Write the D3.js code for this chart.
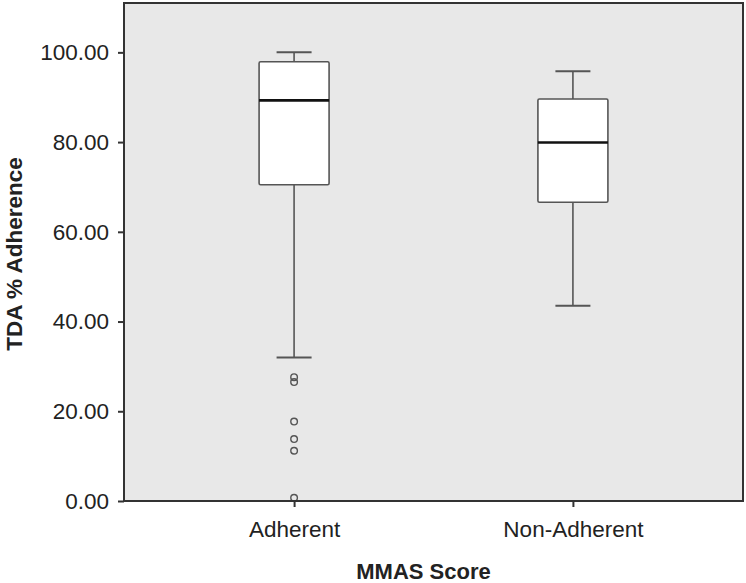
<!DOCTYPE html>
<html>
<head>
<meta charset="utf-8">
<script src="https://cdn.jsdelivr.net/npm/d3@7"></script>
<style>
  body { margin: 0; background: #fff; }
  text { font-family: "Liberation Sans", Arial, sans-serif; fill: #222; }
</style>
</head>
<body>
<div id="chart"></div>
<script>
// data
var categories = ["Adherent", "Non-Adherent"];
var q1 = [70.5, 66.6];
var median = [89.3, 79.9];
var q3 = [97.9, 89.6];
var whiskerLow = [32.0, 43.5];
var whiskerHigh = [100.0, 95.8];
var outliers = [[27.6, 26.5, 17.7, 13.8, 11.2, 0.7], []];
var yTicks = [0, 20, 40, 60, 80, 100];

var width = 746, height = 583;
var margin = {top: 3, right: 3, bottom: 82, left: 124};
var plotW = width - margin.left - margin.right,
    plotH = height - margin.top - margin.bottom;

var svg = d3.select("#chart")
  .append("svg")
    .attr("width", width)
    .attr("height", height);

var g = svg.append("g")
  .attr("transform", "translate(" + margin.left + "," + margin.top + ")");

var x = d3.scalePoint()
  .domain(categories)
  .range([0, plotW])
  .padding(0.61);

var y = d3.scaleLinear()
  .domain([0, 111])
  .range([plotH, 0]);

// plot background
g.append("rect")
  .attr("width", plotW)
  .attr("height", plotH)
  .attr("fill", "#e8e8e8");

var boxW = 70, capW = 35;

var boxes = g.selectAll(".box")
  .data(categories)
  .enter()
  .append("g")
    .attr("class", "box")
    .attr("transform", function(d) { return "translate(" + x(d) + ",0)"; });

// whiskers
boxes.append("line")
  .attr("x1", 0).attr("x2", 0)
  .attr("y1", function(d, i) { return y(whiskerHigh[i]); })
  .attr("y2", function(d, i) { return y(q3[i]); })
  .attr("stroke", "#555").attr("stroke-width", 1.6);
boxes.append("line")
  .attr("x1", 0).attr("x2", 0)
  .attr("y1", function(d, i) { return y(q1[i]); })
  .attr("y2", function(d, i) { return y(whiskerLow[i]); })
  .attr("stroke", "#555").attr("stroke-width", 1.6);
// caps
boxes.append("line")
  .attr("x1", -capW / 2).attr("x2", capW / 2)
  .attr("y1", function(d, i) { return y(whiskerHigh[i]); })
  .attr("y2", function(d, i) { return y(whiskerHigh[i]); })
  .attr("stroke", "#555").attr("stroke-width", 2);
boxes.append("line")
  .attr("x1", -capW / 2).attr("x2", capW / 2)
  .attr("y1", function(d, i) { return y(whiskerLow[i]); })
  .attr("y2", function(d, i) { return y(whiskerLow[i]); })
  .attr("stroke", "#555").attr("stroke-width", 2);

// box
boxes.append("rect")
  .attr("x", -boxW / 2)
  .attr("width", boxW)
  .attr("y", function(d, i) { return y(q3[i]); })
  .attr("height", function(d, i) { return y(q1[i]) - y(q3[i]); })
  .attr("rx", 1.5)
  .attr("fill", "#fff")
  .attr("stroke", "#555")
  .attr("stroke-width", 1.6);

// median
boxes.append("line")
  .attr("x1", -boxW / 2).attr("x2", boxW / 2)
  .attr("y1", function(d, i) { return y(median[i]); })
  .attr("y2", function(d, i) { return y(median[i]); })
  .attr("stroke", "#111").attr("stroke-width", 2.6);

// outliers
boxes.selectAll("circle")
  .data(function(d, i) { return outliers[i]; })
  .enter()
  .append("circle")
    .attr("cx", 0)
    .attr("cy", function(v) { return y(v); })
    .attr("r", 3.3)
    .attr("fill", "none")
    .attr("stroke", "#555")
    .attr("stroke-width", 1.4);

// frame
g.append("rect")
  .attr("width", plotW)
  .attr("height", plotH)
  .attr("fill", "none")
  .attr("stroke", "#333")
  .attr("stroke-width", 2);

// axes
var yAxis = g.append("g")
  .call(d3.axisLeft(y).tickValues(yTicks).tickSize(6).tickPadding(9)
    .tickFormat(function(d) { return d3.format(".2f")(d); }));
yAxis.select(".domain").remove();
yAxis.selectAll("line").attr("stroke", "#333").attr("stroke-width", 2);
yAxis.selectAll("text")
  .style("font-size", "22.5px")
  .style("font-family", "Liberation Sans, Arial, sans-serif")
  .attr("fill", "#222");

var xAxis = g.append("g")
  .attr("transform", "translate(0," + plotH + ")")
  .call(d3.axisBottom(x).tickSize(6).tickPadding(14));
xAxis.select(".domain").remove();
xAxis.selectAll("line").attr("stroke", "#333").attr("stroke-width", 2);
xAxis.selectAll("text")
  .style("font-size", "22.5px")
  .style("font-family", "Liberation Sans, Arial, sans-serif")
  .attr("fill", "#222");

// axis titles
svg.append("text")
  .attr("x", margin.left + plotW / 2 - 10)
  .attr("y", 579)
  .attr("text-anchor", "middle")
  .style("font-size", "22px")
  .style("font-weight", "bold")
  .text("MMAS Score");

svg.append("text")
  .attr("transform", "translate(22,254) rotate(-90)")
  .attr("text-anchor", "middle")
  .style("font-size", "22.5px")
  .style("font-weight", "bold")
  .text("TDA % Adherence");
</script>
</body>
</html>
